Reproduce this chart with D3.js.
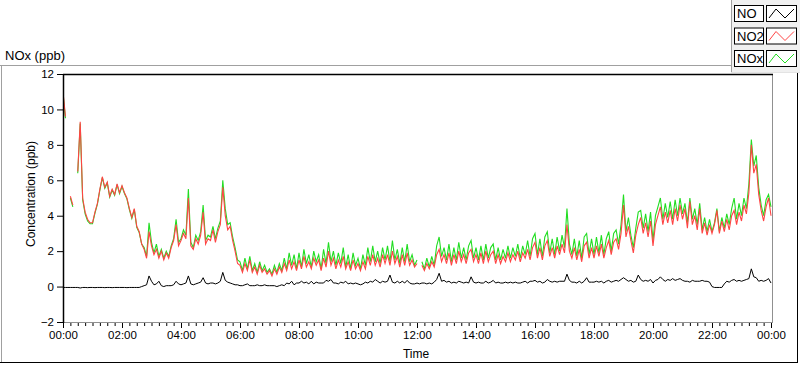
<!DOCTYPE html>
<html><head><meta charset="utf-8">
<script src="https://cdn.jsdelivr.net/npm/d3@7"></script>
<style>
html,body{margin:0;padding:0;background:#fff;}
svg text{font-family:"Liberation Sans",Arial,sans-serif;}
</style></head>
<body><svg id="c" width="800" height="365"></svg>
<script>
// ---- data (5-minute samples, 00:00 .. 24:00) ----
const xTickLabels = ["00:00","02:00","04:00","06:00","08:00","10:00","12:00","14:00","16:00","18:00","20:00","22:00","00:00"];
const yTicks = [-2,0,2,4,6,8,10,12];
const seriesNames = ["NO","NO2","NOx"];
const seriesColors = ["#000000","#ff4444","#22dd22"];

const NO2 = [
11.0,9.6,null,5.1,4.6,null,6.5,9.3,5.0,4.2,3.8,3.6,
3.6,4.2,4.7,5.5,6.2,5.6,5.9,5.1,5.5,5.2,5.8,5.3,
5.7,5.3,5.0,4.4,3.9,4.4,3.4,3.1,2.4,2.1,1.6,3.1,
2.3,1.8,2.1,1.6,2.0,1.5,1.9,1.6,2.2,2.6,3.5,2.3,
2.6,3.0,2.7,5.0,2.3,2.1,2.7,2.4,2.9,4.2,2.4,2.7,
2.6,3.2,2.5,3.1,3.5,5.6,4.0,3.2,3.4,2.6,2.0,1.3,
1.2,0.8,1.3,0.9,1.5,0.8,1.1,0.7,1.2,0.8,1.0,0.7,
0.9,0.6,1.0,0.7,1.1,0.8,1.3,0.9,1.5,1.0,1.4,0.9,
1.5,1.0,1.7,1.1,1.4,1.0,1.6,1.2,1.5,0.9,1.6,1.1,
2.0,1.2,1.6,1.0,1.5,1.1,1.7,1.0,1.4,0.9,1.5,1.0,
1.3,0.9,1.4,1.0,1.7,1.2,1.8,1.2,1.6,1.1,1.8,1.3,
1.8,1.2,2.0,1.3,1.7,1.1,1.8,1.2,1.9,1.2,1.5,1.1,
1.3,null,1.2,0.9,1.3,1.0,1.4,1.1,1.8,2.1,1.4,1.8,
1.3,1.9,1.2,1.8,1.3,2.0,1.4,1.8,1.3,1.9,2.1,1.4,
1.8,1.3,1.9,1.3,2.0,1.4,1.8,2.0,1.3,1.8,1.3,1.7,
1.4,1.9,1.4,1.8,1.5,2.0,1.4,1.9,1.6,2.1,1.5,2.2,
2.5,1.6,2.2,1.5,2.3,2.6,1.7,2.2,1.6,2.3,1.8,2.4,
1.9,3.5,2.0,1.6,2.2,1.5,2.1,1.4,2.3,2.5,1.6,2.2,
1.6,2.3,1.7,2.4,1.6,2.2,2.6,1.8,2.5,2.7,2.1,3.0,
4.6,2.8,3.4,2.6,1.9,2.9,3.5,3.9,3.0,3.6,2.8,3.7,
2.3,3.5,4.0,4.5,3.5,4.2,3.6,4.3,3.5,4.4,3.7,4.6,
3.8,4.4,3.3,4.8,3.5,4.0,3.2,4.4,3.0,3.6,2.9,3.5,
3.0,3.5,4.3,3.0,3.7,3.1,3.8,3.2,4.0,4.3,3.5,4.2,
3.7,4.6,4.1,5.3,8.0,6.4,6.9,5.2,4.3,3.7,4.5,5.0,
4.0];

const NOx = [
10.9,9.5,null,5.0,4.5,null,6.4,9.2,4.9,4.1,3.7,3.55,
3.55,4.15,4.65,5.45,6.15,5.55,5.85,5.05,5.45,5.15,5.75,5.25,
5.65,5.25,4.95,4.35,3.85,4.35,3.35,3.05,2.4,2.2,1.7,3.6,
2.5,1.9,2.4,1.7,2.1,1.6,2.0,1.7,2.3,2.7,3.8,2.5,
2.7,3.2,2.9,5.5,2.5,2.2,2.9,2.6,3.1,4.6,2.6,2.9,
2.8,3.4,2.7,3.3,3.7,6.0,4.4,3.5,3.6,2.8,2.2,1.5,
1.4,0.9,1.6,1.0,1.7,0.9,1.3,0.8,1.4,0.9,1.2,0.8,
1.0,0.7,1.2,0.8,1.3,0.9,1.6,1.0,1.9,1.2,1.8,1.0,
1.9,1.1,2.1,1.3,1.8,1.1,2.0,1.4,1.8,1.0,2.1,1.3,
2.5,1.4,2.0,1.2,1.9,1.3,2.2,1.1,1.8,1.0,1.9,1.2,
1.6,1.0,1.8,1.2,2.2,1.4,2.3,1.4,2.0,1.3,2.2,1.5,
2.3,1.4,2.6,1.5,2.1,1.3,2.2,1.4,2.4,1.4,1.8,1.2,
1.5,null,1.4,1.0,1.6,1.1,1.7,1.2,2.3,2.8,1.7,2.2,
1.5,2.4,1.4,2.2,1.5,2.5,1.6,2.2,1.5,2.3,2.6,1.6,
2.2,1.5,2.3,1.5,2.4,1.6,2.2,2.4,1.5,2.2,1.5,2.1,
1.6,2.3,1.6,2.2,1.7,2.4,1.6,2.3,1.8,2.6,1.7,2.7,
3.0,1.8,2.7,1.7,2.8,3.1,1.9,2.7,1.8,2.8,2.0,2.9,
2.2,4.4,2.4,1.8,2.7,1.7,2.6,1.6,2.8,3.0,1.8,2.7,
1.8,2.8,1.9,2.9,1.8,2.7,3.1,2.0,3.0,3.2,2.4,3.5,
5.2,3.1,3.9,2.9,2.2,3.3,4.2,4.3,3.3,4.1,3.1,4.2,
2.6,4.0,4.5,5.0,3.8,4.7,3.9,4.8,3.8,4.9,4.0,5.0,
4.1,4.7,3.6,5.0,3.8,4.4,3.5,4.7,3.2,3.9,3.1,3.8,
3.1,3.6,4.4,3.1,3.9,3.3,4.1,3.5,4.4,5.0,3.8,4.7,
4.0,5.0,4.4,5.8,8.3,6.8,7.4,5.6,4.6,4.0,4.9,5.2,
4.5];

const NO = [
-0.05,-0.05,-0.05,-0.05,-0.05,-0.05,-0.05,-0.08,-0.05,-0.05,-0.06,-0.05,
-0.05,-0.06,-0.05,-0.05,-0.05,-0.06,-0.05,-0.05,-0.06,-0.05,-0.05,-0.05,
-0.05,-0.05,-0.06,-0.05,-0.05,-0.05,-0.05,-0.05,0.0,0.05,0.1,0.6,
0.3,0.1,0.15,0.3,0.05,0.0,0.05,0.05,0.05,0.1,0.3,0.15,
0.1,0.15,0.2,0.6,0.15,0.1,0.15,0.2,0.25,0.5,0.2,0.15,
0.2,0.2,0.15,0.2,0.3,0.8,0.35,0.25,0.2,0.15,0.1,0.1,
0.05,0.05,0.1,0.15,0.05,0.05,0.05,0.1,0.05,0.05,0.1,0.05,
0.05,0.05,0.05,0.0,0.05,0.1,0.05,0.2,0.15,0.3,0.1,0.2,
0.2,0.3,0.2,0.25,0.15,0.3,0.15,0.25,0.2,0.2,0.2,0.35,
0.3,0.4,0.2,0.2,0.15,0.25,0.2,0.3,0.15,0.2,0.15,0.2,
0.15,0.1,0.15,0.25,0.2,0.3,0.25,0.4,0.3,0.2,0.3,0.25,
0.3,0.65,0.25,0.2,0.3,0.2,0.3,0.2,0.35,0.2,0.15,0.15,
0.2,0.15,0.2,0.2,0.15,0.2,0.15,0.25,0.4,0.75,0.3,0.35,
0.25,0.3,0.2,0.25,0.2,0.3,0.25,0.2,0.25,0.2,0.55,0.25,
0.2,0.25,0.2,0.2,0.3,0.2,0.25,0.35,0.2,0.25,0.2,0.2,
0.25,0.2,0.25,0.2,0.25,0.2,0.2,0.25,0.3,0.2,0.3,0.3,
0.35,0.25,0.3,0.2,0.25,0.4,0.3,0.25,0.3,0.25,0.3,0.3,
0.3,0.7,0.35,0.25,0.25,0.2,0.3,0.2,0.3,0.5,0.25,0.25,
0.25,0.3,0.25,0.3,0.2,0.3,0.35,0.25,0.3,0.35,0.3,0.4,
0.5,0.4,0.3,0.35,0.25,0.3,0.65,0.4,0.3,0.35,0.3,0.4,
0.2,0.35,0.4,0.55,0.4,0.3,0.4,0.35,0.45,0.35,0.4,0.45,
0.35,0.3,0.3,0.25,0.35,0.3,0.3,0.3,0.35,0.3,0.3,0.25,
0.0,-0.05,-0.05,-0.05,-0.05,0.15,0.3,0.25,0.35,0.4,0.3,0.35,
0.3,0.35,0.4,0.45,1.0,0.55,0.5,0.3,0.35,0.3,0.35,0.45,
0.2];

// ---- layout ----
const svg = d3.select("#c");
const L = 63, R = 772, T = 74, B = 322;
const x = d3.scaleLinear().domain([0, 24]).range([L, R - 1]);
const y = d3.scaleLinear().domain([-2, 12]).range([B, T]);
const FONT = 12;

// outer frame
svg.append("line").attr("x1",0).attr("x2",731).attr("y1",65.5).attr("y2",65.5).attr("stroke","#a0a0a0");
svg.append("line").attr("x1",1.5).attr("x2",1.5).attr("y1",65).attr("y2",362).attr("stroke","#a0a0a0");
svg.append("line").attr("x1",0).attr("x2",798).attr("y1",362.5).attr("y2",362.5).attr("stroke","#000");
svg.append("line").attr("x1",797.5).attr("x2",797.5).attr("y1",72).attr("y2",363).attr("stroke","#000");

// title
svg.append("text").attr("x",5).attr("y",60).attr("font-size",13).attr("fill","#000").text("NOx (ppb)");

// legend panel
const lg = svg.append("g");
lg.append("rect").attr("x",731).attr("y",0).attr("width",69).attr("height",72).attr("fill","#f0f0f0");
lg.append("line").attr("x1",731.5).attr("x2",731.5).attr("y1",0).attr("y2",72).attr("stroke","#a0a0a0");
lg.append("line").attr("x1",731).attr("x2",800).attr("y1",72.5).attr("y2",72.5).attr("stroke","#e3e3e3");
seriesNames.forEach((n, i) => {
  const y0 = 5 + i * 22.5;
  const g = lg.append("g").attr("transform", `translate(0,${y0})`);
  g.append("rect").attr("x",734.5).attr("y",0.5).attr("width",29).attr("height",16).attr("fill","#fff").attr("stroke","#000");
  g.append("text").attr("x",737).attr("y",13).attr("font-size",FONT+1).attr("fill","#000").text(n);
  g.append("rect").attr("x",766.5).attr("y",0.5).attr("width",30).attr("height",16).attr("fill","#fff").attr("stroke","#000");
  g.append("path").attr("d","M769,13 L776,4 L785,13 L794,4").attr("fill","none").attr("stroke",seriesColors[i]).attr("stroke-width",1);
});

// plot background
svg.append("rect").attr("x",L).attr("y",T).attr("width",R-L).attr("height",B-T).attr("fill","#fff");

// clip
svg.append("clipPath").attr("id","clip").append("rect").attr("x",L+1).attr("y",T+1).attr("width",R-L-1).attr("height",B-T-1);

const tx = i => x(i * 5 / 60);
const mkLine = d3.line().defined(d => d != null).x((d, i) => tx(i)).y(d => y(d));
const plot = svg.append("g").attr("clip-path","url(#clip)");
plot.append("path").datum(NOx).attr("d", mkLine).attr("fill","none").attr("stroke",seriesColors[2]).attr("stroke-width",1.1);
plot.append("path").datum(NO2).attr("d", mkLine).attr("fill","none").attr("stroke",seriesColors[1]).attr("stroke-width",1.1);
plot.append("path").datum(NO).attr("d", mkLine).attr("fill","none").attr("stroke",seriesColors[0]).attr("stroke-width",1);

// plot borders
svg.append("line").attr("x1",R+0.5).attr("x2",R+0.5).attr("y1",T).attr("y2",B+1).attr("stroke","#909090");
svg.append("line").attr("x1",L).attr("x2",R+1).attr("y1",B+0.5).attr("y2",B+0.5).attr("stroke","#909090");
svg.append("line").attr("x1",L).attr("x2",R+1).attr("y1",T+0.5).attr("y2",T+0.5).attr("stroke","#000").attr("stroke-width",1.5);
svg.append("line").attr("x1",L+0.5).attr("x2",L+0.5).attr("y1",T).attr("y2",B+1).attr("stroke","#000").attr("stroke-width",1.5);

// y axis
const yAx = svg.append("g").attr("transform",`translate(${L},0)`)
  .call(d3.axisLeft(y).tickValues(yTicks).tickSize(6).tickSizeOuter(0).tickPadding(3).tickFormat(d3.format("d")));
yAx.select(".domain").remove();
yAx.selectAll("text").attr("font-size",11.5).attr("fill","#000").attr("font-family","Liberation Sans, Arial, sans-serif");
yAx.selectAll("line").attr("stroke","#000");

// x axis minor ticks (15 min)
const minor = d3.range(0, 24.01, 0.25);
const xMin = svg.append("g").attr("transform",`translate(0,${B+1})`)
  .call(d3.axisBottom(x).tickValues(minor).tickSize(3).tickSizeOuter(0).tickFormat(""));
xMin.select(".domain").remove();
xMin.selectAll("line").attr("stroke","#000");
const majorVals = xTickLabels.map((_, i) => i * 2);
const xAx = svg.append("g").attr("transform",`translate(0,${B+1})`)
  .call(d3.axisBottom(x).tickValues(majorVals).tickSize(5).tickSizeOuter(0).tickPadding(3).tickFormat((d, i) => xTickLabels[i]));
xAx.select(".domain").remove();
xAx.selectAll("text").attr("font-size",11.5).attr("fill","#000").attr("font-family","Liberation Sans, Arial, sans-serif");
xAx.selectAll("line").attr("stroke","#000");

// axis titles
svg.append("text").attr("x",416).attr("y",358).attr("text-anchor","middle").attr("font-size",FONT).attr("fill","#000").text("Time");
svg.append("text").attr("transform","translate(35,194) rotate(-90)").attr("text-anchor","middle").attr("font-size",FONT).attr("fill","#000").text("Concentration (ppb)");
</script></body></html>
